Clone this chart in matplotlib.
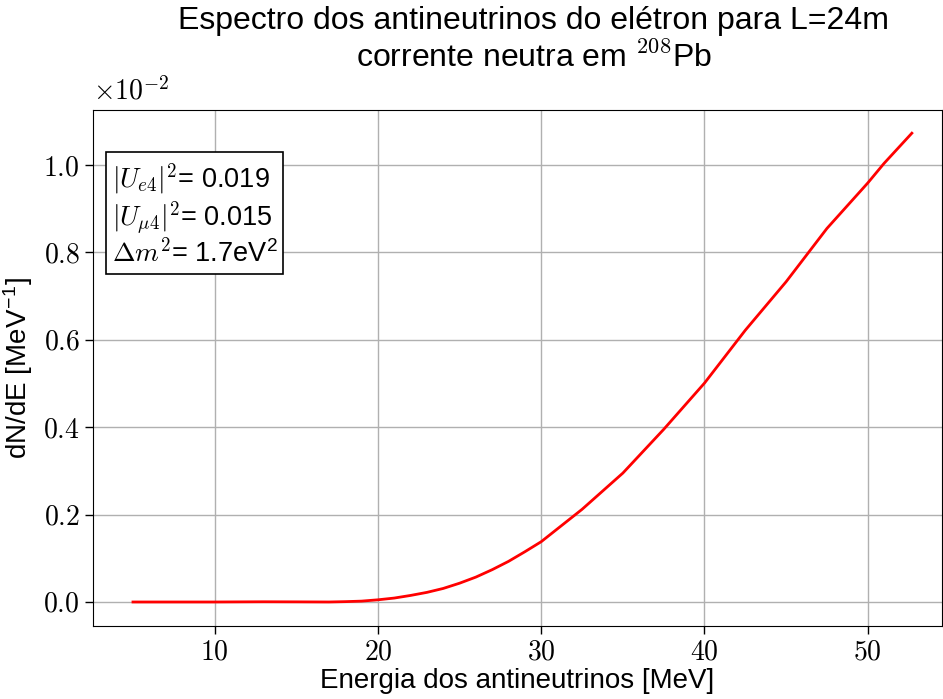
import matplotlib
matplotlib.use("Agg")
import matplotlib.pyplot as plt
from matplotlib.ticker import FuncFormatter, MultipleLocator

plt.rcParams['font.family'] = ['Liberation Sans', 'DejaVu Sans']
plt.rcParams['mathtext.fontset'] = 'cm'

# spectrum, dN/dE in units of 1e-2 MeV^-1
energy = [5, 7, 10, 13, 15, 17, 18, 19, 20, 21, 22, 23, 24, 25,
          26, 27, 28, 29, 30, 32.5, 35, 37.5, 40, 42.5, 45, 47.5, 50, 51, 52.7]
dnde = [0.0, 0.0, 0.0, 0.0005, 0.0003, 0.0, 0.0008, 0.002, 0.005, 0.009, 0.015,
        0.022, 0.031, 0.043, 0.057, 0.074, 0.093, 0.115, 0.138, 0.212, 0.295,
        0.395, 0.501, 0.622, 0.733, 0.855, 0.959, 1.004, 1.073]

params_text = ['$|U_{e4}|^2$= 0.019', r'$|U_{\mu4}|^2$= 0.015',
               r'$\Delta m^2$= 1.7eV$^{\mathregular{2}}$']

fig = plt.figure(figsize=(9.43, 6.99), dpi=100)
ax = fig.add_axes([0.0986, 0.1044, 0.9004, 0.7382])

ax.plot(energy, [v * 1e-2 for v in dnde], color='red', lw=2)

ax.set_xlim(2.55, 54.55)
ax.set_ylim(-0.055e-2, 1.126e-2)
ax.xaxis.set_major_locator(MultipleLocator(10))
ax.yaxis.set_major_locator(MultipleLocator(0.2e-2))
ax.xaxis.set_major_formatter(FuncFormatter(lambda v, p: f'${v:.0f}$'))
ax.yaxis.set_major_formatter(FuncFormatter(lambda v, p: f'${v * 100:.1f}$'))
ax.tick_params(labelsize=20, length=6, width=1)
ax.grid(True, color='#b0b0b0', lw=1)
ax.set_axisbelow(True)

ax.text(0.0, 1.008, r'$\times10^{-2}$', transform=ax.transAxes,
        fontsize=20, ha='left', va='bottom')

ax.set_xlabel('Energia dos antineutrinos [MeV]', fontsize=20, labelpad=2)
ax.set_ylabel(r'dN/dE [MeV$^{\mathregular{-1}}$]', fontsize=20, labelpad=6)
fig.suptitle('Espectro dos antineutrinos do elétron para L=24m\n'
             'corrente neutra em $^{208}$Pb', fontsize=23, x=0.566, y=0.992,
             linespacing=1.25)

ax.text(0.022, 0.9, '\n'.join(params_text), transform=ax.transAxes,
        fontsize=19.5, ha='left', va='top', linespacing=1.08,
        bbox=dict(boxstyle='square,pad=0.2', fc='white', ec='black', lw=1.2))

fig.savefig('out.png', dpi=100)
